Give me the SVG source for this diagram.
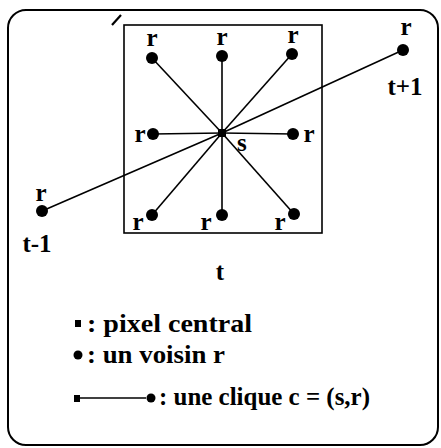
<svg xmlns="http://www.w3.org/2000/svg" width="441" height="448" viewBox="0 0 441 448">
<style>
.lbl{font-family:"Liberation Serif","Times New Roman",serif;font-weight:bold;font-size:25px;fill:#000}
.leg{font-family:"Liberation Serif","Times New Roman",serif;font-weight:bold;font-size:25px;fill:#000}
.edge{stroke:#000;stroke-width:1.6;fill:none}
.node{fill:#000}
</style>
<rect x="0" y="0" width="441" height="448" fill="#fff"/>
<rect x="8" y="10" width="430" height="435" rx="18" ry="18" fill="none" stroke="#000" stroke-width="2"/>
<line x1="112" y1="25" x2="121" y2="15" stroke="#000" stroke-width="2.2"/>
<rect x="124" y="25" width="198" height="208" fill="none" stroke="#000" stroke-width="1.6"/>
<g id="connectors">
<line class="edge" x1="222" y1="133" x2="152" y2="58"/>
<line class="edge" x1="222" y1="133" x2="222" y2="56"/>
<line class="edge" x1="222" y1="133" x2="292" y2="54"/>
<line class="edge" x1="222" y1="133" x2="153" y2="134"/>
<line class="edge" x1="222" y1="133" x2="293" y2="134"/>
<line class="edge" x1="222" y1="133" x2="152" y2="215"/>
<line class="edge" x1="222" y1="133" x2="222" y2="215"/>
<line class="edge" x1="222" y1="133" x2="294" y2="214"/>
<line class="edge" x1="222" y1="133" x2="403" y2="50"/>
<line class="edge" x1="222" y1="133" x2="42" y2="211"/>
</g>
<g id="s"><rect class="node" x="218" y="129" width="8" height="8"/><text class="lbl" x="237" y="151">s</text></g>
<g id="r_tl"><circle class="node" cx="152" cy="58" r="6"/><text class="lbl" x="152" y="46" text-anchor="middle">r</text></g>
<g id="r_tc"><circle class="node" cx="222" cy="56" r="6"/><text class="lbl" x="222" y="45" text-anchor="middle">r</text></g>
<g id="r_tr"><circle class="node" cx="292" cy="54" r="6"/><text class="lbl" x="293" y="43" text-anchor="middle">r</text></g>
<g id="r_ml"><circle class="node" cx="153" cy="134" r="6"/><text class="lbl" x="140" y="142" text-anchor="middle">r</text></g>
<g id="r_mr"><circle class="node" cx="293" cy="134" r="6"/><text class="lbl" x="309" y="142" text-anchor="middle">r</text></g>
<g id="r_bl"><circle class="node" cx="152" cy="215" r="6"/><text class="lbl" x="138" y="230" text-anchor="middle">r</text></g>
<g id="r_bc"><circle class="node" cx="222" cy="215" r="6"/><text class="lbl" x="206" y="230" text-anchor="middle">r</text></g>
<g id="r_br"><circle class="node" cx="294" cy="214" r="6"/><text class="lbl" x="280" y="230" text-anchor="middle">r</text></g>
<g id="r_next"><circle class="node" cx="403" cy="50" r="6"/><text class="lbl" x="406" y="35" text-anchor="middle">r</text><text class="lbl" x="405" y="95" text-anchor="middle">t+1</text></g>
<g id="r_prev"><circle class="node" cx="42" cy="211" r="6"/><text class="lbl" x="41" y="201" text-anchor="middle">r</text><text class="lbl" x="37" y="252" text-anchor="middle">t-1</text></g>
<text class="lbl" x="220" y="280" text-anchor="middle">t</text>
<g id="legend">
<rect class="node" x="75" y="320" width="6" height="7"/>
<text class="leg" x="87" y="332" textLength="165" lengthAdjust="spacingAndGlyphs">: pixel central</text>
<circle class="node" cx="78" cy="355" r="4.5"/>
<text class="leg" x="87" y="363" textLength="138" lengthAdjust="spacingAndGlyphs">: un voisin r</text>
<rect class="node" x="74" y="395" width="6" height="7"/>
<line class="edge" x1="80" y1="398" x2="146" y2="398" stroke-width="1.2"/>
<circle class="node" cx="151" cy="398" r="4.5"/>
<text class="leg" x="159" y="405" textLength="211" lengthAdjust="spacingAndGlyphs">: une clique c = (s,r)</text>
</g>
</svg>
